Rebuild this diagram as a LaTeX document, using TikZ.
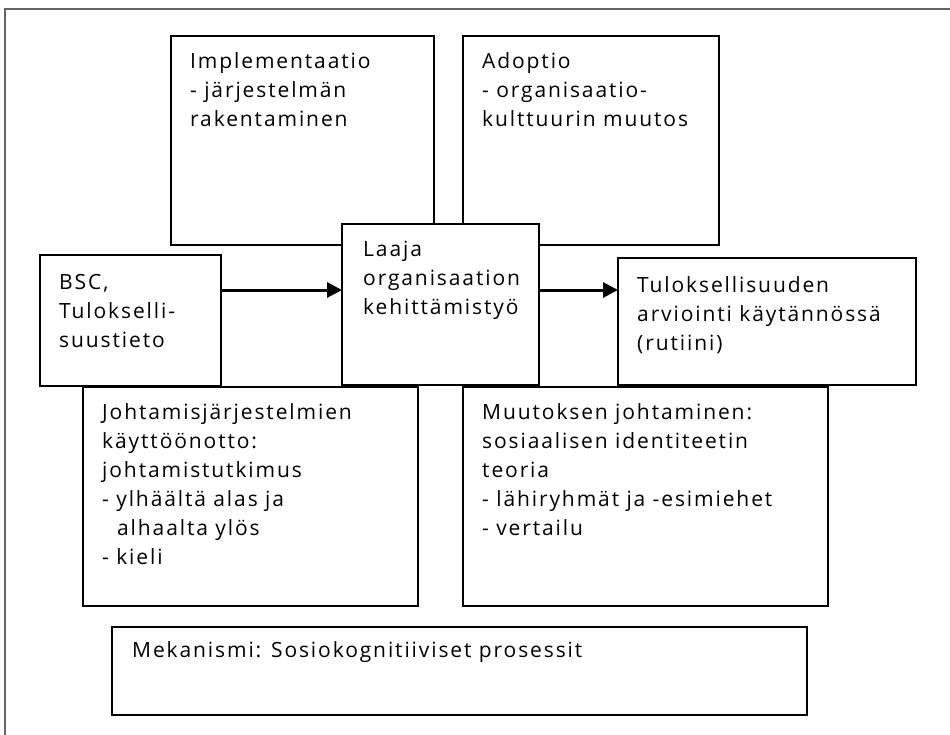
\documentclass[tikz,border=0pt]{standalone}
\usepackage{fontspec}
\setmainfont{Open Sans}[LetterSpace=9]
\usetikzlibrary{calc,arrows.meta}
% left-aligned lines whose first baseline is the node's base
\newcommand{\linesof}[1]{\begin{tabular}[t]{@{}l@{}}#1\end{tabular}}
\begin{document}
\begin{tikzpicture}[x=1pt,y=-1pt,
  box/.style={draw=black, line width=1.8pt, fill=white, inner sep=0pt, outer sep=0pt, anchor=north west},
  txt/.style={anchor=base west, inner sep=0pt,
    font=\fontsize{21pt}{29pt}\selectfont},
  arr/.style={line width=3pt, -{Triangle[length=15pt,width=15pt]}},
  frame/.style={draw=black!60, line width=1.5pt}]
\useasboundingbox (0,0) rectangle (950,734);
\fill[white] (0,0) rectangle (950,734);
% page frame, cut off at the right and bottom
\draw[frame] (960,9) -- (5,9) -- (5,744);

% boxes, back to front
\node[box, minimum width=263pt, minimum height=209pt] (impl) at (171,36) {};
\node[box, minimum width=256pt, minimum height=209pt] (adopt) at (463,36) {};
\node[box, minimum width=335pt, minimum height=219pt] (johto) at (83,387) {};
\node[box, minimum width=365pt, minimum height=219pt] (muut) at (463,387) {};
\node[box, minimum width=181pt, minimum height=131pt] (bsc) at (40,255) {};
\node[box, minimum width=197pt, minimum height=161pt] (laaja) at (342,224) {};
\node[box, minimum width=298pt, minimum height=127pt] (tulos) at (618,258) {};
\node[box, minimum width=695pt, minimum height=88pt] (meka) at (112,627) {};

% texts
\node[txt] (implT) at ($(impl.north west)+(19,32)$) {\linesof{Implementaatio\\- järjestelmän\\rakentaminen}};
\node[txt] (adoptT) at ($(adopt.north west)+(19,32)$) {\linesof{Adoptio\\- organisaatio-\\kulttuurin muutos}};
\node[txt] (bscT) at ($(bsc.north west)+(19,34)$) {\linesof{BSC,\\Tulokselli-\\suustieto}};
\node[txt] (laajaT) at ($(laaja.north west)+(21,32)$) {\linesof{Laaja\\organisaation\\kehittämistyö}};
\node[txt] (tulosT) at ($(tulos.north west)+(19,34)$) {\linesof{Tuloksellisuuden\\arviointi käytännössä\\(rutiini)}};
\node[txt] (johtoT) at ($(johto.north west)+(19,32)$) {\linesof{Johtamisjärjestelmien\\käyttöönotto:\\johtamistutkimus\\- ylhäältä alas ja\\\hspace*{15pt}alhaalta ylös\\- kieli}};
\node[txt] (muutT) at ($(muut.north west)+(19,32)$) {\linesof{Muutoksen johtaminen:\\sosiaalisen identiteetin\\teoria\\- lähiryhmät ja -esimiehet\\- vertailu}};
\node[txt] (mekaT) at ($(meka.north west)+(20,30)$) {Mekanismi: Sosiokognitiiviset prosessit};

% arrows
\coordinate (arrowrow) at (0,290);
\draw[arr] (bsc.east |- arrowrow) -- (laaja.west |- arrowrow);
\draw[arr] (laaja.east |- arrowrow) -- (tulos.west |- arrowrow);
\end{tikzpicture}
\end{document}
